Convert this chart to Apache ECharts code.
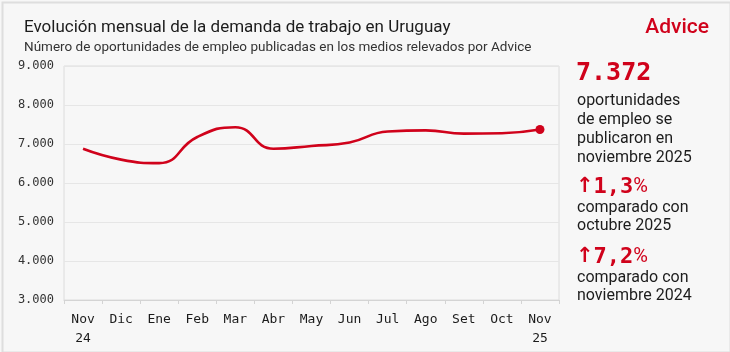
<!DOCTYPE html>
<html>
<head>
<meta charset="utf-8">
<script src="https://cdn.jsdelivr.net/npm/echarts@6/dist/echarts.min.js"></script>
<style>
  html, body { margin: 0; padding: 0; background: #f7f7f7; }
  #chart { width: 730px; height: 352px; }
</style>
</head>
<body>
<div id="chart"></div>
<script>
// months shown on the x axis
const months = ['Nov\n24', 'Dic', 'Ene', 'Feb', 'Mar', 'Abr', 'May', 'Jun', 'Jul', 'Ago', 'Set', 'Oct', 'Nov\n25'];
// job offers published per month
const offers = [6877, 6600, 6510, 7180, 7430, 6880, 6950, 7040, 7320, 7350, 7265, 7277, 7372];
const yTicks = [3000, 4000, 5000, 6000, 7000, 8000, 9000];

const red = '#d0021b';
const ink = '#1c1c1c';
const mono = '"DejaVu Sans Mono", "Liberation Mono", monospace';
const sans = 'Roboto, "Noto Sans", sans-serif';

function fmt(v) {
  return String(v).replace(/\B(?=(\d{3})+(?!\d))/g, '.');
}

const chart = echarts.init(document.getElementById('chart'));
const last = offers.length - 1;

const changeRich = {
  a: { fill: red, font: 'bold 21px "DejaVu Sans", sans-serif' },
  n: { fill: red, font: 'bold 22px ' + mono },
  p: { fill: red, font: '20px ' + sans }
};

chart.setOption({
  backgroundColor: '#f7f7f7',
  animation: false,
  title: {
    text: 'Evolución mensual de la demanda de trabajo en Uruguay',
    subtext: 'Número de oportunidades de empleo publicadas en los medios relevados por Advice',
    left: 19,
    top: 14,
    itemGap: 5,
    textStyle: { fontFamily: sans, fontSize: 17, fontWeight: 'normal', color: ink },
    subtextStyle: { fontFamily: sans, fontSize: 13.5, color: '#333' }
  },
  grid: {
    left: 64, right: 171, top: 66, bottom: 52,
    show: true, borderColor: '#dcdcdc', borderWidth: 1
  },
  xAxis: {
    type: 'category',
    data: months,
    boundaryGap: true,
    axisLine: { lineStyle: { color: '#d4d4d4' } },
    axisTick: { show: true, length: 4, lineStyle: { color: '#d4d4d4' } },
    axisLabel: { fontFamily: mono, fontSize: 13, color: ink, margin: 10, lineHeight: 19, interval: 0 }
  },
  yAxis: {
    type: 'value',
    min: yTicks[0],
    max: yTicks[yTicks.length - 1],
    interval: 1000,
    axisLine: { show: false },
    axisTick: { show: false },
    splitLine: { lineStyle: { color: '#e6e6e6' } },
    axisLabel: { fontFamily: mono, fontSize: 12, color: '#333', margin: 10, formatter: fmt }
  },
  series: [{
    type: 'line',
    data: offers,
    smooth: 0.5,
    smoothConstraint: false,
    showAllSymbol: true,
    symbol: 'circle',
    symbolSize: (v, p) => (p.dataIndex === last ? 9 : 0),
    itemStyle: { color: red },
    lineStyle: { color: red, width: 2.6 }
  }],
  graphic: [
    {
      type: 'rect', left: 0, top: 0, silent: true,
      shape: { x: 1, y: 1, width: 728, height: 350 },
      style: { fill: 'none', stroke: '#dedede', lineWidth: 2 }
    },
    {
      type: 'text', right: 21, top: 17,
      style: { text: 'Advice', fill: red, font: '500 21px ' + sans }
    },
    {
      type: 'text', left: 576, top: 61,
      style: { text: fmt(offers[last]), fill: red, font: 'bold 25px ' + mono }
    },
    {
      type: 'text', left: 577, top: 91,
      style: {
        text: 'oportunidades\nde empleo se\npublicaron en\nnoviembre 2025',
        fill: ink, font: '16px ' + sans, lineHeight: 19
      }
    },
    {
      type: 'text', left: 576, top: 176,
      style: { text: '{a|↑}{n|1,3}{p|%}', rich: changeRich }
    },
    {
      type: 'text', left: 577, top: 199,
      style: { text: 'comparado con\noctubre 2025', fill: ink, font: '16px ' + sans, lineHeight: 18 }
    },
    {
      type: 'text', left: 576, top: 246,
      style: { text: '{a|↑}{n|7,2}{p|%}', rich: changeRich }
    },
    {
      type: 'text', left: 577, top: 269,
      style: { text: 'comparado con\nnoviembre 2024', fill: ink, font: '16px ' + sans, lineHeight: 18 }
    }
  ]
});
</script>
</body>
</html>
